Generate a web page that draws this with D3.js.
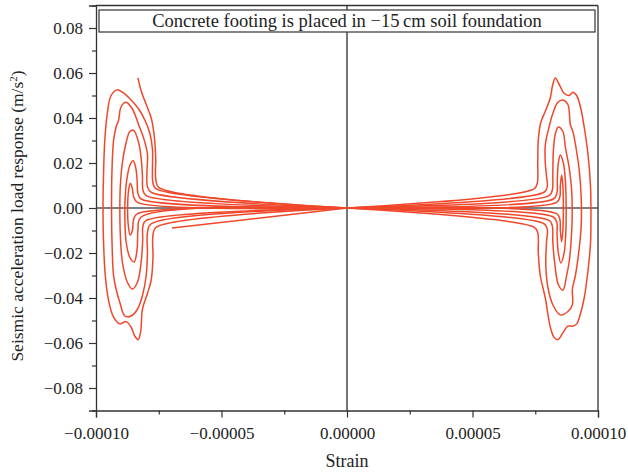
<!DOCTYPE html>
<html>
<head>
<meta charset="utf-8">
<script src="https://cdn.jsdelivr.net/npm/d3@7"></script>
<style>
  html, body { margin: 0; padding: 0; background: #fff; }
  svg { display: block; }
  text { font-family: "Liberation Serif", "DejaVu Serif", serif; fill: #222; }
</style>
</head>
<body>
<svg id="chart" width="628" height="472"></svg>
<script>
// Strain vs. seismic acceleration response, footing at -15 cm.
const title = "Concrete footing is placed in \u221215\u2009cm soil foundation";
const xLabel = "Strain";
const yLabelMain = "Seismic acceleration load response (m/s";
const xTickValues = [-0.0001, -0.00005, 0, 0.00005, 0.0001];
const xMinorTicks = [-0.000075, -0.000025, 0.000025, 0.000075];
const yTickValues = [-0.08, -0.06, -0.04, -0.02, 0, 0.02, 0.04, 0.06, 0.08];
const yMinorTicks = [-0.09, -0.07, -0.05, -0.03, -0.01, 0.01, 0.03, 0.05, 0.07, 0.09];
const xDomain = [-0.0001, 0.0001];
const yDomain = [-0.09, 0.09];

// Loops on the compression side (negative strain), outermost first.
const leftLoops = [
  [[0,0],[-7.6e-5,0.0085],[-7.73e-5,0.011],[-7.75e-5,0.018],[-7.75e-5,0.026],[-7.85e-5,0.033],[-8.05e-5,0.039],
   [-8.3e-5,0.044],[-8.6e-5,0.048],[-8.95e-5,0.0515],[-9.15e-5,0.0525],[-9.4e-5,0.050],[-9.55e-5,0.042],
   [-9.65e-5,0.030],[-9.7e-5,0.015],[-9.72e-5,0.0],[-9.7e-5,-0.015],[-9.63e-5,-0.030],[-9.5e-5,-0.041],
   [-9.3e-5,-0.0485],[-9.05e-5,-0.0515],[-8.8e-5,-0.0505],[-8.6e-5,-0.053],[-8.45e-5,-0.057],[-8.32e-5,-0.0585],
   [-8.22e-5,-0.055],[-8.15e-5,-0.045],[-7.95e-5,-0.038],[-7.8e-5,-0.032],[-7.73e-5,-0.022],[-7.73e-5,-0.012],
   [-7.6e-5,-0.0085],[0,0]],
  [[0,0],[-7.8e-5,0.007],[-7.95e-5,0.0095],[-7.97e-5,0.016],[-7.95e-5,0.024],[-8.1e-5,0.031],[-8.3e-5,0.037],
   [-8.55e-5,0.044],[-8.8e-5,0.047],[-9.0e-5,0.045],[-9.1e-5,0.039],[-9.2e-5,0.036],[-9.3e-5,0.030],
   [-9.36e-5,0.018],[-9.38e-5,0.0],[-9.36e-5,-0.016],[-9.3e-5,-0.030],[-9.2e-5,-0.036],[-9.05e-5,-0.042],
   [-8.85e-5,-0.048],[-8.6e-5,-0.048],[-8.35e-5,-0.045],[-8.15e-5,-0.039],[-8.0e-5,-0.030],[-7.95e-5,-0.020],
   [-7.95e-5,-0.011],[-7.8e-5,-0.007],[0,0]],
  [[0,0],[-8.0e-5,0.0055],[-8.13e-5,0.008],[-8.15e-5,0.014],[-8.2e-5,0.022],[-8.3e-5,0.029],[-8.5e-5,0.0345],
   [-8.65e-5,0.034],[-8.8e-5,0.029],[-8.95e-5,0.020],[-9.03e-5,0.010],[-9.05e-5,0.0],[-9.03e-5,-0.012],
   [-8.95e-5,-0.024],[-8.75e-5,-0.033],[-8.55e-5,-0.036],[-8.35e-5,-0.033],[-8.2e-5,-0.024],[-8.14e-5,-0.014],
   [-8.13e-5,-0.008],[-8.0e-5,-0.0055],[0,0]],
  [[0,0],[-8.2e-5,0.004],[-8.33e-5,0.0065],[-8.36e-5,0.012],[-8.42e-5,0.018],[-8.52e-5,0.021],[-8.65e-5,0.019],
   [-8.78e-5,0.012],[-8.84e-5,0.004],[-8.85e-5,-0.005],[-8.8e-5,-0.015],[-8.65e-5,-0.022],[-8.48e-5,-0.024],
   [-8.36e-5,-0.018],[-8.33e-5,-0.010],[-8.2e-5,-0.004],[0,0]],
  [[0,0],[-8.35e-5,0.0025],[-8.5e-5,0.005],[-8.56e-5,0.009],[-8.63e-5,0.011],[-8.7e-5,0.008],[-8.74e-5,0.0],
   [-8.72e-5,-0.007],[-8.64e-5,-0.012],[-8.55e-5,-0.010],[-8.5e-5,-0.005],[-8.35e-5,-0.0025],[0,0]]
];

// Loops on the tension side (positive strain), outermost first.
const rightLoops = [
  [[0,0],[7.45e-5,0.0085],[7.58e-5,0.011],[7.6e-5,0.020],[7.62e-5,0.030],[7.72e-5,0.038],[7.9e-5,0.043],
   [8.1e-5,0.049],[8.2e-5,0.055],[8.3e-5,0.0578],[8.45e-5,0.055],[8.65e-5,0.051],[8.85e-5,0.050],[9.0e-5,0.0515],
   [9.15e-5,0.050],[9.3e-5,0.045],[9.45e-5,0.036],[9.6e-5,0.024],[9.7e-5,0.010],[9.72e-5,-0.005],[9.7e-5,-0.016],
   [9.6e-5,-0.028],[9.45e-5,-0.040],[9.3e-5,-0.047],[9.15e-5,-0.0515],[9.0e-5,-0.0525],[8.8e-5,-0.0525],
   [8.6e-5,-0.0555],[8.4e-5,-0.0585],[8.25e-5,-0.0575],[8.1e-5,-0.053],[7.9e-5,-0.040],[7.7e-5,-0.030],
   [7.62e-5,-0.020],[7.6e-5,-0.011],[7.45e-5,-0.0085],[0,0]],
  [[0,0],[7.85e-5,0.007],[7.98e-5,0.0095],[7.95e-5,0.014],[7.9e-5,0.020],[7.9e-5,0.028],[8.05e-5,0.036],
   [8.2e-5,0.042],[8.4e-5,0.047],[8.6e-5,0.048],[8.8e-5,0.046],[8.9e-5,0.037],[9.0e-5,0.034],[9.12e-5,0.027],
   [9.25e-5,0.017],[9.33e-5,0.005],[9.33e-5,-0.008],[9.25e-5,-0.018],[9.1e-5,-0.030],[8.98e-5,-0.036],
   [8.98e-5,-0.043],[8.8e-5,-0.046],[8.5e-5,-0.0475],[8.2e-5,-0.043],[8.0e-5,-0.035],[7.92e-5,-0.025],
   [7.95e-5,-0.015],[7.98e-5,-0.0095],[7.85e-5,-0.007],[0,0]],
  [[0,0],[8.05e-5,0.0055],[8.18e-5,0.008],[8.2e-5,0.015],[8.22e-5,0.025],[8.3e-5,0.033],[8.42e-5,0.036],
   [8.6e-5,0.034],[8.7e-5,0.027],[8.85e-5,0.018],[8.95e-5,0.008],[8.97e-5,-0.004],[8.92e-5,-0.016],
   [8.85e-5,-0.024],[8.75e-5,-0.030],[8.6e-5,-0.0365],[8.42e-5,-0.034],[8.28e-5,-0.025],[8.2e-5,-0.015],
   [8.18e-5,-0.008],[8.05e-5,-0.0055],[0,0]],
  [[0,0],[8.22e-5,0.004],[8.36e-5,0.0065],[8.38e-5,0.013],[8.42e-5,0.020],[8.5e-5,0.0236],[8.62e-5,0.020],
   [8.7e-5,0.012],[8.73e-5,0.002],[8.72e-5,-0.010],[8.65e-5,-0.020],[8.52e-5,-0.0244],[8.42e-5,-0.020],
   [8.37e-5,-0.012],[8.36e-5,-0.0065],[8.22e-5,-0.004],[0,0]],
  [[0,0],[8.35e-5,0.0025],[8.48e-5,0.005],[8.5e-5,0.010],[8.55e-5,0.0147],[8.6e-5,0.010],[8.62e-5,0.0],
   [8.6e-5,-0.010],[8.55e-5,-0.015],[8.5e-5,-0.010],[8.48e-5,-0.005],[8.35e-5,-0.0025],[0,0]]
];

// Opening and closing branches of the record.
const startBranch = [[-8.33e-5,0.0578],[-8.2e-5,0.052],[-8.0e-5,0.046],[-7.8e-5,0.040],[-7.68e-5,0.032],
  [-7.62e-5,0.022],[-7.62e-5,0.013],[-7.5e-5,0.0092],[0,0]];
const endBranch = [[0,0],[-6.97e-5,-0.0089]];

const svg = d3.select("#chart");
const x = d3.scaleLinear().domain(xDomain).range([96, 598]);
const y = d3.scaleLinear().domain(yDomain).range([410.5, 5.5]);

const axisColor = "#333";
const curveColor = "#f0472b";
const serif = "'Liberation Serif', 'DejaVu Serif', serif";

// Zero reference lines
svg.append("line").attr("x1", x(0)).attr("x2", x(0)).attr("y1", y(yDomain[0])).attr("y2", y(yDomain[1]))
  .attr("stroke", "#555").attr("stroke-width", 1.6);
svg.append("line").attr("x1", x(xDomain[0])).attr("x2", x(xDomain[1])).attr("y1", y(0)).attr("y2", y(0))
  .attr("stroke", "#555").attr("stroke-width", 1.6);

// Response curve
const line = d3.line().x(d => x(d[0])).y(d => y(d[1])).curve(d3.curveCatmullRom.alpha(0.5));
const allPaths = [startBranch, ...leftLoops, ...rightLoops, endBranch];
svg.append("g").selectAll("path").data(allPaths).join("path")
  .attr("d", line).attr("fill", "none").attr("stroke", curveColor)
  .attr("stroke-width", 1.5).attr("stroke-linejoin", "round");

// Title box
svg.append("rect").attr("x", 99).attr("y", 10).attr("width", 496).attr("height", 22)
  .attr("fill", "#fff").attr("stroke", axisColor).attr("stroke-width", 1.2);
svg.append("text").attr("x", x(0)).attr("y", 27).attr("text-anchor", "middle")
  .style("font-size", "18.5px").text(title);

// Axes
const fmtX = d3.format(".5f"), fmtY = d3.format(".2f");
svg.append("g").attr("transform", `translate(0,${y(yDomain[0])})`)
  .call(d3.axisBottom(x).tickValues(xTickValues).tickFormat(fmtX).tickSize(7).tickPadding(9));
svg.append("g").attr("transform", `translate(0,${y(yDomain[0])})`)
  .call(d3.axisBottom(x).tickValues(xMinorTicks).tickFormat("").tickSize(4))
  .call(g => g.select(".domain").remove());
svg.append("g").attr("transform", `translate(${x(xDomain[0])},0)`)
  .call(d3.axisLeft(y).tickValues(yTickValues).tickFormat(fmtY).tickSize(7).tickPadding(6));
svg.append("g").attr("transform", `translate(${x(xDomain[0])},0)`)
  .call(d3.axisLeft(y).tickValues(yMinorTicks).tickFormat("").tickSize(4))
  .call(g => g.select(".domain").remove());
svg.selectAll(".domain").attr("stroke", axisColor).attr("stroke-width", 1.3);
svg.selectAll(".tick line").attr("stroke", axisColor).attr("stroke-width", 1.2);
svg.selectAll(".tick text").style("font-family", serif).style("font-size", "17px").attr("fill", "#222");

// Top and right frame edges
svg.append("line").attr("x1", x(xDomain[0])).attr("x2", x(xDomain[1])).attr("y1", y(yDomain[1])).attr("y2", y(yDomain[1]))
  .attr("stroke", axisColor).attr("stroke-width", 1.3);
svg.append("line").attr("x1", x(xDomain[1])).attr("x2", x(xDomain[1])).attr("y1", y(yDomain[1])).attr("y2", y(yDomain[0]))
  .attr("stroke", axisColor).attr("stroke-width", 1.3);

// Axis titles
svg.append("text").attr("x", x(0)).attr("y", 467).attr("text-anchor", "middle")
  .style("font-size", "18px").text(xLabel);
const yl = svg.append("text").attr("transform", `translate(23,216) rotate(-90)`)
  .attr("text-anchor", "middle").style("font-size", "17.5px");
yl.append("tspan").text(yLabelMain);
yl.append("tspan").attr("dy", -6).style("font-size", "11px").text("2");
yl.append("tspan").attr("dy", 6).text(")");
</script>
</body>
</html>
